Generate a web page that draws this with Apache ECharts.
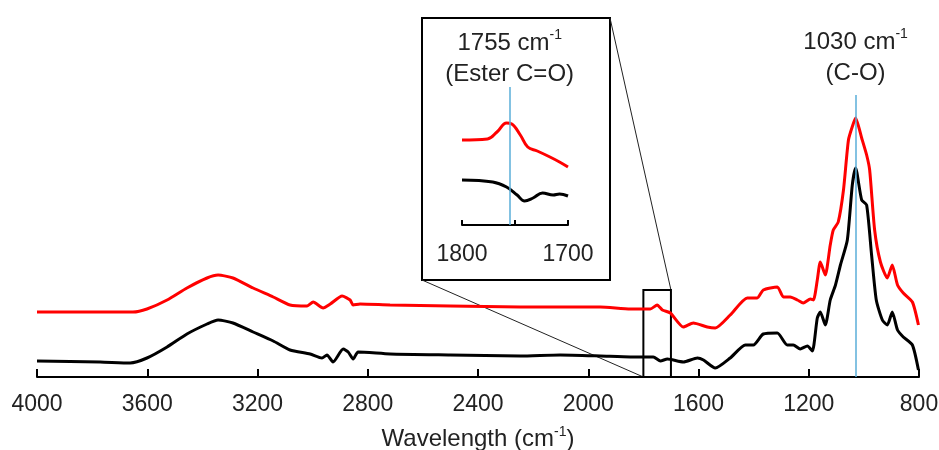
<!DOCTYPE html>
<html>
<head>
<meta charset="utf-8">
<script src="https://cdn.jsdelivr.net/npm/echarts@6/dist/echarts.min.js"></script>
<style>
  html, body { margin: 0; padding: 0; background: #fff; }
  #chart { width: 939px; height: 450px; }
</style>
</head>
<body>
<div id="chart"></div>
<script>
// main spectra (wavenumber, offset absorbance in arbitrary units)
const redWn = [4000, 3771, 3652, 3601, 3528, 3456, 3383, 3343, 3289, 3216, 3143, 3082, 3020, 2998, 2962, 2936, 2893, 2864, 2853, 2828, 2719, 2501, 2247, 1956, 1847, 1775, 1750, 1731, 1702, 1655, 1619, 1568, 1539, 1485, 1423, 1387, 1365, 1314, 1292, 1267, 1241, 1220, 1194, 1183, 1169, 1158, 1140, 1122, 1111, 1093, 1074, 1056, 1040, 1030, 1008, 990, 979, 961, 940, 915, 897, 878, 857, 824, 802]
const redAbs = [65, 65, 65, 68, 77, 89, 99, 102, 99, 89, 80, 72, 71, 75, 69, 73, 81, 77, 72, 73, 72, 71, 70, 70, 68, 68, 72, 67, 64, 50, 54, 50, 49, 62, 79, 79, 87, 90, 80, 80, 77, 74, 78, 77, 97, 115, 102, 132, 147, 155, 187, 237, 252, 259, 239, 222, 207, 147, 115, 99, 112, 92, 84, 75, 52]

const blackWn = [4000, 3771, 3662, 3601, 3528, 3456, 3383, 3343, 3289, 3216, 3143, 3082, 3009, 2966, 2948, 2926, 2889, 2871, 2853, 2835, 2719, 2501, 2247, 2102, 1956, 1847, 1764, 1738, 1713, 1655, 1604, 1582, 1539, 1485, 1430, 1401, 1365, 1314, 1278, 1256, 1231, 1205, 1187, 1169, 1158, 1140, 1122, 1103, 1085, 1060, 1042, 1030, 1008, 990, 972, 955, 933, 915, 897, 878, 857, 824, 802]
const blackAbs = [16, 15, 14, 19, 30, 43, 53, 57, 54, 45, 36, 27, 23, 19, 22, 15, 28, 25, 18, 25, 23, 22, 21, 22, 21, 20, 20, 16, 18, 15, 19, 17, 9, 19, 32, 32, 43, 44, 32, 32, 28, 31, 26, 59, 65, 52, 77, 92, 112, 137, 192, 209, 177, 172, 122, 77, 57, 52, 65, 47, 40, 32, 7]

// inset (1800-1700 cm-1, magnified)
const insetRedWn = [1800, 1776, 1767, 1758, 1753, 1745, 1738, 1729, 1717, 1708, 1700]
const insetRedAbs = [85, 86, 93, 102, 101, 90, 78, 74, 68, 63, 58]
const insetBlackWn = [1800, 1771, 1758, 1748, 1741, 1733, 1724, 1714, 1708, 1700]
const insetBlackAbs = [45, 43, 38, 30, 24, 27, 32, 30, 31, 29]

const xTicks = [4000, 3600, 3200, 2800, 2400, 2000, 1600, 1200, 800]
const insetTicks = [1800, 1700]

const FONT = "'Liberation Sans', Arial, sans-serif"
const TEXT = '#222'
const BLUE = '#5aaed8'

const zip = (xs, ys) => xs.map((x, i) => [x, ys[i]])

const richLabel = {
  a: {fontSize: 24, fontFamily: FONT, color: TEXT, lineHeight: 31},
  s: {fontSize: 14, fontFamily: FONT, color: TEXT, lineHeight: 22, verticalAlign: 'top'}
}

const chart = echarts.init(document.getElementById('chart'))

const option = {
  animation: false,
  backgroundColor: '#fff',
  grid: [
    {left: 37, right: 20, top: 0, bottom: 73, outerBoundsMode: 'none'},
    {left: 462, right: 371, top: 87, bottom: 225, outerBoundsMode: 'none'}
  ],
  xAxis: [
    {
      gridIndex: 0,
      type: 'value',
      min: 800,
      max: 4000,
      interval: 400,
      inverse: true,
      splitLine: {show: false},
      axisLine: {lineStyle: {color: '#000', width: 2}},
      axisTick: {inside: true, length: 8, lineStyle: {color: '#000', width: 2}},
      axisLabel: {
        margin: 16, fontSize: 23, fontFamily: FONT, color: TEXT,
        formatter: v => xTicks.includes(v) ? String(v) : ''
      },
      name: '{a|Wavelength (cm}{s|-1}{a|)}',
      nameLocation: 'middle',
      nameGap: 48,
      nameTextStyle: {
        rich: {
          a: {fontSize: 24, fontFamily: FONT, color: TEXT, lineHeight: 28},
          s: {fontSize: 14, fontFamily: FONT, color: TEXT, lineHeight: 20, verticalAlign: 'top'}
        }
      }
    },
    {
      gridIndex: 1,
      type: 'value',
      min: 1700,
      max: 1800,
      interval: 50,
      inverse: true,
      splitLine: {show: false},
      axisLine: {lineStyle: {color: '#000', width: 2}},
      axisTick: {inside: true, length: 5, lineStyle: {color: '#000', width: 2}},
      axisLabel: {
        margin: 18, fontSize: 23, fontFamily: FONT, color: TEXT,
        formatter: v => insetTicks.includes(v) ? String(v) : ''
      }
    }
  ],
  yAxis: [
    {gridIndex: 0, type: 'value', min: 0, max: 377, show: false},
    {gridIndex: 1, type: 'value', min: 0, max: 138, show: false}
  ],
  series: [
    {
      name: 'red',
      type: 'line',
      xAxisIndex: 0, yAxisIndex: 0,
      data: zip(redWn, redAbs),
      showSymbol: false,
      smooth: 0.2,
      lineStyle: {color: '#ff0000', width: 3},
      markArea: {
        silent: true,
        itemStyle: {color: 'rgba(0,0,0,0)', borderColor: '#000', borderWidth: 2},
        data: [[{coord: [1800, 0]}, {coord: [1700, 87]}]]
      }
    },
    {
      name: 'black',
      type: 'line',
      xAxisIndex: 0, yAxisIndex: 0,
      data: zip(blackWn, blackAbs),
      showSymbol: false,
      smooth: 0.2,
      lineStyle: {color: '#000', width: 3},
      markLine: {
        silent: true,
        symbol: 'none',
        lineStyle: {color: BLUE, width: 1.5, type: 'solid'},
        label: {
          show: true,
          position: 'end',
          distance: 6,
          formatter: '{a|1030 cm}{s|-1}\n{a|(C-O)}',
          rich: richLabel
        },
        data: [[{coord: [1030, 0]}, {coord: [1030, 282]}]]
      }
    },
    {
      name: 'red inset',
      type: 'line',
      xAxisIndex: 1, yAxisIndex: 1,
      data: zip(insetRedWn, insetRedAbs),
      showSymbol: false,
      smooth: 0.4,
      lineStyle: {color: '#ff0000', width: 3}
    },
    {
      name: 'black inset',
      type: 'line',
      xAxisIndex: 1, yAxisIndex: 1,
      data: zip(insetBlackWn, insetBlackAbs),
      showSymbol: false,
      smooth: 0.4,
      lineStyle: {color: '#000', width: 3},
      markLine: {
        silent: true,
        symbol: 'none',
        lineStyle: {color: BLUE, width: 1.5, type: 'solid'},
        label: {
          show: true,
          position: 'end',
          distance: -3,
          formatter: '{a|1755 cm}{s|-1}\n{a|(Ester C=O)}',
          rich: richLabel
        },
        data: [[{coord: [1755, 0]}, {coord: [1755, 138]}]]
      }
    }
  ]
}

chart.setOption(option)

// inset frame and the zoom lines that tie it to the 1800-1700 box
const box = {x: 422, y: 18, w: 188, h: 262}
const zoomBL = chart.convertToPixel({xAxisIndex: 0, yAxisIndex: 0}, [1800, 0])
const zoomTR = chart.convertToPixel({xAxisIndex: 0, yAxisIndex: 0}, [1700, 87])

chart.setOption({
  graphic: [
    {
      type: 'rect',
      shape: {x: box.x, y: box.y, width: box.w, height: box.h},
      style: {fill: 'none', stroke: '#000', lineWidth: 2},
      silent: true
    },
    {
      type: 'line',
      shape: {x1: box.x, y1: box.y + box.h, x2: zoomBL[0], y2: zoomBL[1]},
      style: {stroke: '#222', lineWidth: 1},
      silent: true
    },
    {
      type: 'line',
      shape: {x1: box.x + box.w, y1: box.y, x2: zoomTR[0], y2: zoomTR[1]},
      style: {stroke: '#222', lineWidth: 1},
      silent: true
    }
  ]
})
</script>
</body>
</html>
